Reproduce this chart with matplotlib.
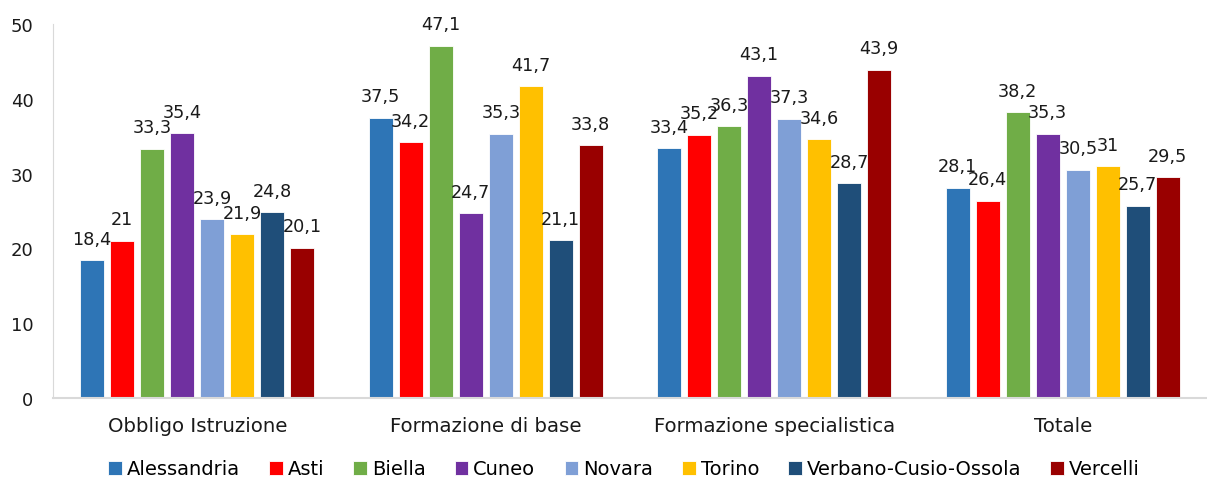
import matplotlib
matplotlib.use("Agg")
import matplotlib.pyplot as plt
import numpy as np

categories = ["Obbligo Istruzione", "Formazione di base", "Formazione specialistica", "Totale"]
provinces = ["Alessandria", "Asti", "Biella", "Cuneo", "Novara", "Torino",
             "Verbano-Cusio-Ossola", "Vercelli"]
alessandria = [18.4, 37.5, 33.4, 28.1]
asti = [21.0, 34.2, 35.2, 26.4]
biella = [33.3, 47.1, 36.3, 38.2]
cuneo = [35.4, 24.7, 43.1, 35.3]
novara = [23.9, 35.3, 37.3, 30.5]
torino = [21.9, 41.7, 34.6, 31.0]
verbano = [24.8, 21.1, 28.7, 25.7]
vercelli = [20.1, 33.8, 43.9, 29.5]
series = [alessandria, asti, biella, cuneo, novara, torino, verbano, vercelli]
colors = ["#2E75B6", "#FF0000", "#70AD47", "#7030A0", "#7F9FD6", "#FFC000",
          "#1F4E79", "#990000"]
yticks = [0, 10, 20, 30, 40, 50]

plt.rcParams["font.family"] = ["DejaVu Sans"]

fig = plt.figure(figsize=(12.07, 4.81), dpi=100)
ax = fig.add_axes([53 / 1207, 1 - 399 / 481, 1 - 53 / 1207, 374 / 481])

x = np.arange(len(categories))
slot = 0.104
bw = 0.083
for i, (vals, c, name) in enumerate(zip(series, colors, provinces)):
    pos = x + (i - 3.5) * slot
    bars = ax.bar(pos, vals, bw, color=c, label=name, edgecolor="white", linewidth=0.6)
    for b, v in zip(bars, vals):
        txt = f"{v:g}".replace(".", ",")
        ax.annotate(txt, (b.get_x() + b.get_width() / 2, v), xytext=(0, 9),
                    textcoords="offset points", ha="center", va="bottom",
                    fontsize=12.7, color="#1a1a1a")

ax.set_xlim(-0.5, 3.5)
ax.set_ylim(0, 50)
ax.set_yticks(yticks)
ax.set_xticks(x)
ax.set_xticklabels(categories, fontsize=14.2)
ax.tick_params(axis="both", length=0, colors="#1a1a1a")
ax.tick_params(axis="y", pad=14, labelsize=13)
ax.tick_params(axis="x", pad=13)
for s in ["top", "right"]:
    ax.spines[s].set_visible(False)
ax.spines["left"].set_color("#D9D9D9")
ax.spines["bottom"].set_color("#D9D9D9")
ax.spines["bottom"].set_linewidth(1.5)

fig.legend(loc="center", bbox_to_anchor=(624 / 1207, 1 - 470 / 481), ncol=8, frameon=False,
           fontsize=14, handlelength=0.7, handleheight=0.7, handletextpad=0.25,
           columnspacing=1.5, borderaxespad=0)

fig.savefig("out.png", dpi=100)
